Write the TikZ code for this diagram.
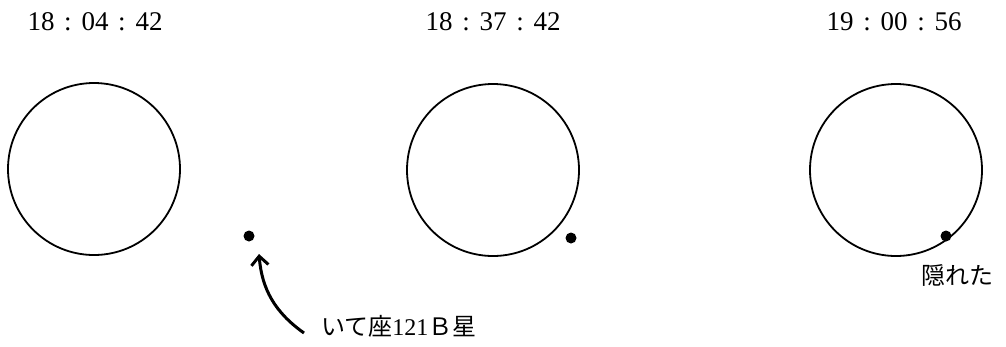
\documentclass[tikz,border=0pt]{standalone}
\usepackage{fontspec}
\setmainfont{Liberation Serif}
\newfontfamily\jp{Noto Sans CJK JP}
\usetikzlibrary{arrows.meta}
\newcommand{\wcolon}{\makebox[1em]{:}}
\begin{document}
\begin{tikzpicture}[x=1pt,y=-1pt,
  moon/.style={draw=black,line width=1.8pt,circle,minimum size=172pt,inner sep=0pt},
  star/.style={fill=black,circle,minimum size=11pt,inner sep=0pt},
  timelabel/.style={font=\fontsize{27}{30}\selectfont,inner sep=0pt},
  jplabel/.style={font=\fontsize{24}{28}\selectfont,inner sep=0pt},
  pointer/.style={line width=3pt,-{Straight Barb[length=9pt,width=17pt,line width=3pt]}}]
\useasboundingbox (0,0) rectangle (1006,346);
\node[timelabel] (t1) at (95,22) {18\wcolon04\wcolon42};
\node[timelabel] (t2) at (493,22) {18\wcolon37\wcolon42};
\node[timelabel] (t3) at (894,22) {19\wcolon00\wcolon56};
\node[moon] (m1) at (94,169) {};
\node[moon] (m2) at (493,170) {};
\node[moon] (m3) at (896,170) {};
\node[star] (s1) at (249,236) {};
\node[star] (s2) at (571,238) {};
\node[star] (s3) at (946,236) {};
\node[jplabel,anchor=west] (l1) at (321,326) {{\jp いて座}121{\jp Ｂ星}};
\node[jplabel,anchor=west] (l2) at (921,275) {\jp 隠れた};
\coordinate (a1) at (304,333);
\coordinate (a2) at (259,254);
\draw[pointer] (a1) to[bend left=25] (a2);
\end{tikzpicture}
\end{document}
